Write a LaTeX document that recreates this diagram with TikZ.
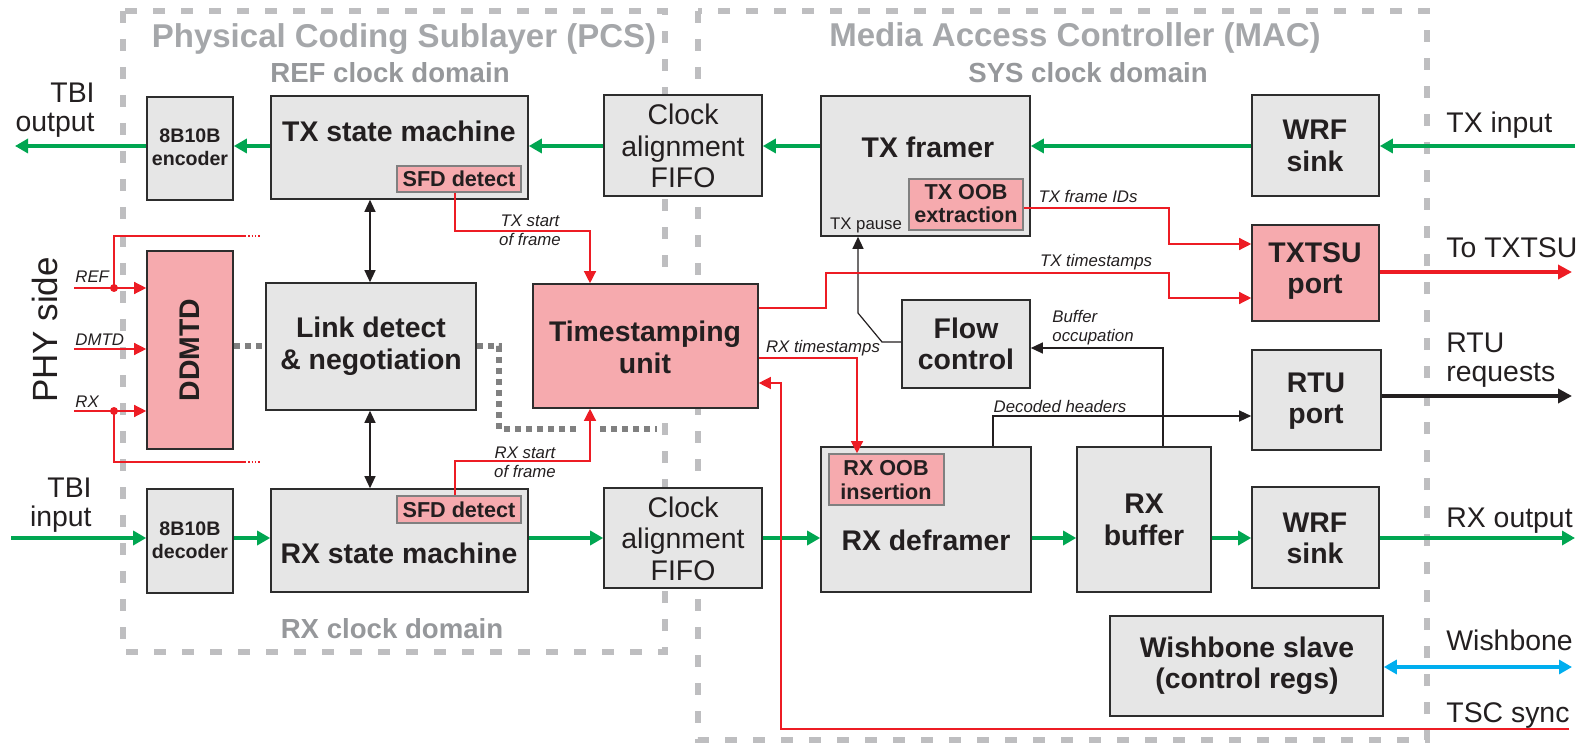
\documentclass[tikz,border=0pt]{standalone}
\usepackage{fontspec}
\setmainfont{Liberation Sans}
\usetikzlibrary{arrows.meta,fit}

\definecolor{boxgray}{RGB}{230,230,230}
\definecolor{boxline}{RGB}{45,45,45}
\definecolor{pinkf}{RGB}{246,170,174}
\definecolor{subline}{RGB}{128,128,128}
\definecolor{grn}{RGB}{0,166,81}
\definecolor{rd}{RGB}{237,28,36}
\definecolor{cyn}{RGB}{0,174,239}
\definecolor{regline}{RGB}{190,190,192}
\definecolor{dotline}{RGB}{128,128,128}
\definecolor{ttl}{RGB}{165,167,170}
\definecolor{dom}{RGB}{150,152,155}
\definecolor{ink}{RGB}{35,31,32}

\newcommand\fbig{\bfseries\fontsize{14.2}{15.75}\selectfont}
\newcommand\freg{\fontsize{14.2}{15.75}\selectfont}
\newcommand\fsmb{\bfseries\fontsize{9.8}{11}\selectfont}
\newcommand\fsub{\bfseries\fontsize{10.8}{12}\selectfont}
\newcommand\fext{\fontsize{14.2}{15}\selectfont}
\newcommand\fit{\itshape\fontsize{8.4}{9.5}\selectfont}
\newcommand\fttl{\bfseries\fontsize{16.5}{18}\selectfont}
\newcommand\fdom{\bfseries\fontsize{13.8}{15}\selectfont}

\begin{document}
\begin{tikzpicture}[x=0.5pt,y=-0.5pt,
  blk/.style={draw=boxline, fill=boxgray, line width=0.8pt, inner sep=0pt},
  pblk/.style={blk, fill=pinkf},
  sblk/.style={draw=subline, fill=pinkf, line width=0.8pt, inner sep=0pt},
  lbl/.style={inner sep=0pt, anchor=base, text=ink},
  region/.style={draw=regline, line width=2.6pt, dash pattern=on 6pt off 8pt},
  garrow/.style={draw=grn, line width=1.8pt, -{Triangle[length=6.5pt,width=7pt]}},
  rline/.style={draw=rd, line width=0.65pt},
  rarrow/.style={rline, -{Triangle[length=6pt,width=6pt]}},
  karrow/.style={draw=ink, line width=0.6pt, -{Triangle[length=6pt,width=5.5pt]}},
  kdouble/.style={draw=ink, line width=0.6pt, {Triangle[length=6pt,width=5.5pt]}-{Triangle[length=6pt,width=5.5pt]}},
  dotted path/.style={draw=dotline, line width=3pt, dash pattern=on 3pt off 2.5pt},
]
\useasboundingbox (0,0) rectangle (1585,743);

% clock-domain regions
\draw[region] (123,11) rectangle (665,652);
\draw[region] (698,11) rectangle (1427,740);
\node[lbl, text=ttl, font=\fttl] (pcsT) at (404,48) {Physical Coding Sublayer (PCS)};
\node[lbl, text=ttl, font=\fttl] (macT) at (1075,47) {Media Access Controller (MAC)};
\node[lbl, text=dom, font=\fdom] (refD) at (390,83) {REF clock domain};
\node[lbl, text=dom, font=\fdom] (sysD) at (1088,83) {SYS clock domain};
\node[lbl, text=dom, font=\fdom] (rxD) at (392,638) {RX clock domain};

% ---- blocks ----
\node[blk, fit={(147,97)(233,200)}] (enc) {};
\node[blk, fit={(147,489)(233,593)}] (dec) {};
\node[pblk, fit={(147,251)(233,449)}] (ddmtd) {};
\node[blk, fit={(271,96)(528,199)}] (txsm) {};
\node[sblk, fit={(397,166)(521,192)}] (sfdt) {};
\node[blk, fit={(271,489)(528,592)}] (rxsm) {};
\node[sblk, fit={(397,496)(521,523)}] (sfdb) {};
\node[blk, fit={(266,283)(476,410)}] (lnk) {};
\node[pblk, fit={(533,284)(758,408)}] (ts) {};
\node[blk, fit={(604,95)(762,196)}] (fifot) {};
\node[blk, fit={(604,488)(762,588)}] (fifob) {};
\node[blk, fit={(821,96)(1030,236)}] (txf) {};
\node[sblk, fit={(909,179)(1023,230)}] (txoob) {};
\node[blk, fit={(1252,95)(1379,196)}] (wrft) {};
\node[pblk, fit={(1252,225)(1379,321)}] (txtsu) {};
\node[blk, fit={(1252,350)(1381,450)}] (rtu) {};
\node[blk, fit={(902,300)(1030,388)}] (fc) {};
\node[blk, fit={(821,447)(1031,592)}] (rxdf) {};
\node[sblk, fit={(829,454)(944,505)}] (rxoob) {};
\node[blk, fit={(1077,447)(1211,592)}] (rxbuf) {};
\node[blk, fit={(1252,487)(1379,588)}] (wrfb) {};
\node[blk, fit={(1110,616)(1383,716)}] (wb) {};

% ---- block texts ----
\node[lbl, font=\fsmb] (encA) at (190,143) {8B10B};
\node[lbl, font=\fsmb] (encB) at (190,166) {encoder};
\node[lbl, font=\fsmb] (decA) at (190,535) {8B10B};
\node[lbl, font=\fsmb] (decB) at (190,558) {decoder};
\node[inner sep=0pt, text=ink, font=\fbig, rotate=90] (ddmtdT) at (ddmtd.center) {DDMTD};
\node[lbl, font=\fbig] (txsmT) at (399,142) {TX state machine};
\node[lbl, font=\fsub] (sfdtT) at (459,187) {SFD detect};
\node[lbl, font=\fbig] (rxsmT) at (399,563) {RX state machine};
\node[lbl, font=\fsub] (sfdbT) at (459,517) {SFD detect};
\node[lbl, font=\fbig] (lnkA) at (371,337) {Link detect};
\node[lbl, font=\fbig] (lnkB) at (371,369) {\& negotiation};
\node[lbl, font=\fbig] (tsA) at (645,342) {Timestamping};
\node[lbl, font=\fbig] (tsB) at (645,373) {unit};
\node[lbl, font=\freg] (fifotA) at (683,125) {Clock};
\node[lbl, font=\freg] (fifotB) at (683,157) {alignment};
\node[lbl, font=\freg] (fifotC) at (683,188) {FIFO};
\node[lbl, font=\freg] (fifobA) at (683,517) {Clock};
\node[lbl, font=\freg] (fifobB) at (683,548) {alignment};
\node[lbl, font=\freg] (fifobC) at (683,580) {FIFO};
\node[lbl, font=\fbig] (txfT) at (928,158) {TX framer};
\node[lbl, font=\fsub] (txoobA) at (966,200) {TX OOB};
\node[lbl, font=\fsub] (txoobB) at (966,223) {extraction};
\node[lbl, font=\fontsize{8.4}{9.5}\selectfont] (txpause) at (866,230) {TX pause};
\node[lbl, font=\fbig] (wrftA) at (1315,140) {WRF};
\node[lbl, font=\fbig] (wrftB) at (1315,172) {sink};
\node[lbl, font=\fbig] (txtsuA) at (1315,263) {TXTSU};
\node[lbl, font=\fbig] (txtsuB) at (1315,293) {port};
\node[lbl, font=\fbig] (rtuA) at (1316,393) {RTU};
\node[lbl, font=\fbig] (rtuB) at (1316,423) {port};
\node[lbl, font=\fbig] (fcA) at (966,338) {Flow};
\node[lbl, font=\fbig] (fcB) at (966,370) {control};
\node[lbl, font=\fsub] (rxoobA) at (886,475) {RX OOB};
\node[lbl, font=\fsub] (rxoobB) at (886,499) {insertion};
\node[lbl, font=\fbig] (rxdfT) at (926,550) {RX deframer};
\node[lbl, font=\fbig] (rxbufA) at (1144,513) {RX};
\node[lbl, font=\fbig] (rxbufB) at (1144,545) {buffer};
\node[lbl, font=\fbig] (wrfbA) at (1315,532) {WRF};
\node[lbl, font=\fbig] (wrfbB) at (1315,563) {sink};
\node[lbl, font=\fbig] (wbA) at (1247,657) {Wishbone slave};
\node[lbl, font=\fbig] (wbB) at (1247,688) {(control regs)};

% ---- level coordinates and free ends ----
\coordinate (ytx) at (0,146);
\coordinate (yrx) at (0,538);
\coordinate (tbiout) at (15,146);
\coordinate (tbiin) at (11,538);
\coordinate (txin) at (1575,146);
\coordinate (rxout) at (1575,538);
\coordinate (totxtsu) at (1572,272);
\coordinate (rtureq) at (1572,396);
\coordinate (wbend) at (1572,667);
\coordinate (tscend) at (1569,729);
\coordinate (tsccorner) at (781,383);

% ---- data paths (green) ----
\draw[garrow] (txin) -- (wrft.east |- ytx);
\draw[garrow] (wrft.west |- ytx) -- (txf.east |- ytx);
\draw[garrow] (txf.west |- ytx) -- (fifot.east |- ytx);
\draw[garrow] (fifot.west |- ytx) -- (txsm.east |- ytx);
\draw[garrow] (txsm.west |- ytx) -- (enc.east |- ytx);
\draw[garrow] (enc.west |- ytx) -- (tbiout);
\draw[garrow] (tbiin) -- (dec.west |- yrx);
\draw[garrow] (dec.east |- yrx) -- (rxsm.west |- yrx);
\draw[garrow] (rxsm.east |- yrx) -- (fifob.west |- yrx);
\draw[garrow] (fifob.east |- yrx) -- (rxdf.west |- yrx);
\draw[garrow] (rxdf.east |- yrx) -- (rxbuf.west |- yrx);
\draw[garrow] (rxbuf.east |- yrx) -- (wrfb.west |- yrx);
\draw[garrow] (wrfb.east |- yrx) -- (rxout);

% ---- outputs to the right ----
\draw[draw=rd, line width=2pt, -{Triangle[length=7pt,width=7pt]}] (txtsu.east |- totxtsu) -- (totxtsu);
\draw[draw=ink, line width=2pt, -{Triangle[length=7pt,width=7pt]}] (rtu.east |- rtureq) -- (rtureq);
\draw[draw=cyn, line width=1.6pt, {Triangle[length=6.5pt,width=7pt]}-{Triangle[length=6.5pt,width=7pt]}] (wb.east |- wbend) -- (wbend);

% ---- link negotiation dotted links ----
\draw[dotted path] (ddmtd.east |- 0,346) -- (lnk.west |- 0,346);
\draw[dotted path] (lnk.east |- 0,346) -- (499,346) -- (499,429) -- (580,429);
\draw[dotted path] (600,429) -- (657,429);

% ---- control (black) ----
\draw[kdouble] (txsm.south -| 370,0) -- (lnk.north -| 370,0);
\draw[kdouble] (lnk.south -| 370,0) -- (rxsm.north -| 370,0);
\draw[karrow] (rxbuf.north -| 1163,0) |- (fc.east |- 0,348);
\draw[karrow] (rxdf.north -| 993,0) |- (rtu.west |- 0,416);
\draw[karrow] (fc.west |- 0,342) -- (882,342) -- (858,313) -- (txf.south -| 858,0);

% ---- timestamping (red) ----
\coordinate (sofx) at (590,0);
\coordinate (txsofy) at (455,231);
\coordinate (rxsofy) at (455,461);
\draw[rarrow] (sfdt.south -| txsofy) -- (txsofy) -| (ts.north -| sofx);
\draw[rarrow] (sfdb.north -| rxsofy) -- (rxsofy) -| (ts.south -| sofx);
\draw[rarrow] (ts.east |- 0,308) -- (826,308) -- (826,273) -- (1169,273) -- (1169,298) -- (txtsu.west |- 0,298);
\draw[rarrow] (txoob.east |- 0,208) -- (1169,208) -- (1169,244) -- (txtsu.west |- 0,244);
\draw[rarrow] (ts.east |- 0,358) -| (rxoob.north -| 857,0);
\draw[rarrow] (tscend) -| (tsccorner) -- (ts.east |- tsccorner);

% ---- DDMTD inputs ----
\coordinate (refin) at (74,288);
\coordinate (dmtdin) at (74,349);
\coordinate (rxin) at (74,411);
\draw[rarrow] (refin) -- (ddmtd.west |- refin);
\draw[rarrow] (dmtdin) -- (ddmtd.west |- dmtdin);
\draw[rarrow] (rxin) -- (ddmtd.west |- rxin);
\draw[rline] (114,288) -- (114,236) -- (245,236);
\draw[rline, densely dotted] (245,236) -- (261,236);
\draw[rline] (114,411) -- (114,462) -- (245,462);
\draw[rline, densely dotted] (245,462) -- (261,462);
\fill[rd] (114,288) circle (2pt);
\fill[rd] (114,411) circle (2pt);

% ---- connector labels ----
\node[lbl, font=\fit] (lTxs1) at (530,227) {TX start};
\node[lbl, font=\fit] (lTxs2) at (530,246) {of frame};
\node[lbl, font=\fit] (lRxs1) at (525,458) {RX start};
\node[lbl, font=\fit] (lRxs2) at (525,477) {of frame};
\node[lbl, font=\fit] (lTxts) at (1096,267) {TX timestamps};
\node[lbl, font=\fit] (lTxid) at (1088,203) {TX frame IDs};
\node[lbl, font=\fit] (lRxts) at (823,352) {RX timestamps};
\node[lbl, font=\fit] (lDec) at (1060,412) {Decoded headers};
\node[lbl, font=\fit, anchor=base west] (lBuf1) at (1052,322) {Buffer};
\node[lbl, font=\fit, anchor=base west] (lBuf2) at (1052,342) {occupation};
\node[lbl, font=\fit, anchor=base west] (lRef) at (75,283) {REF};
\node[lbl, font=\fit, anchor=base west] (lDmtd) at (75,345) {DMTD};
\node[lbl, font=\fit, anchor=base west] (lRx) at (75,407) {RX};

% ---- external port labels ----
\node[inner sep=0pt, text=ink, font=\fontsize{17.5}{19}\selectfont, rotate=90] (phy) at (45,330) {PHY side};
\node[lbl, font=\fext, anchor=base east] (tbo1) at (95,103) {TBI};
\node[lbl, font=\fext, anchor=base east] (tbo2) at (95,132) {output};
\node[lbl, font=\fext, anchor=base east] (tbi1) at (92,497) {TBI};
\node[lbl, font=\fext, anchor=base east] (tbi2) at (92,526) {input};
\node[lbl, font=\fext, anchor=base west] (lTxin) at (1446,133) {TX input};
\node[lbl, font=\fext, anchor=base west] (lToTx) at (1446,258) {To TXTSU};
\node[lbl, font=\fext, anchor=base west] (lRtu1) at (1446,352) {RTU};
\node[lbl, font=\fext, anchor=base west] (lRtu2) at (1446,381) {requests};
\node[lbl, font=\fext, anchor=base west] (lRxout) at (1446,527) {RX output};
\node[lbl, font=\fext, anchor=base west] (lWb) at (1446,650) {Wishbone};
\node[lbl, font=\fext, anchor=base west] (lTsc) at (1446,722) {TSC sync};
\end{tikzpicture}
\end{document}
